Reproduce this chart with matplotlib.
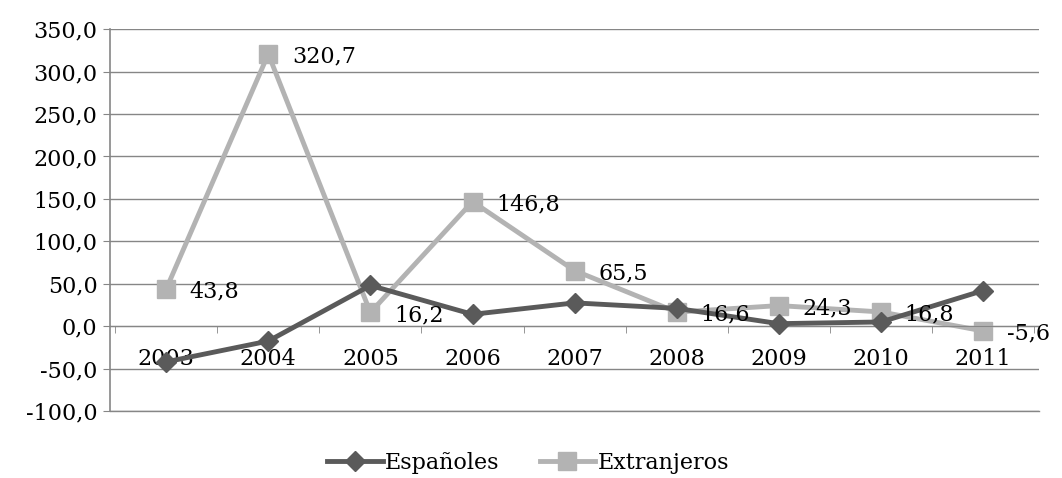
import matplotlib.pyplot as plt
import numpy as np

years = ["2003", "2004", "2005", "2006", "2007", "2008", "2009", "2010", "2011"]
espanoles = [-42.0, -17.5, 48.0, 14.0, 27.5, 21.0, 3.0, 5.0, 42.0]
extranjeros = [43.8, 320.7, 16.2, 146.8, 65.5, 16.6, 24.3, 16.8, -5.6]
ext_labels = ["43,8", "320,7", "16,2", "146,8", "65,5", "16,6", "24,3", "16,8", "-5,6"]

plt.rcParams["font.family"] = ["DejaVu Serif"]

fig = plt.figure(figsize=(10.62, 4.78), dpi=100)
ax = fig.add_axes([0.1036, 0.14, 0.875, 0.799])

x = np.arange(len(years))
ax.plot(x, espanoles, color="#5a5a5a", linewidth=3.5, marker="D", markersize=10,
        label="Españoles", zorder=3)
ax.plot(x, extranjeros, color="#b3b3b3", linewidth=3.5, marker="s", markersize=13,
        label="Extranjeros", zorder=2)

for xi, yi, txt in zip(x, extranjeros, ext_labels):
    ax.annotate(txt, (xi, yi), xytext=(17, -2), textcoords="offset points",
                ha="left", va="center", fontsize=16, color="black", zorder=4)

ax.set_xlim(-0.55, len(years) - 0.45)
ax.set_ylim(-100, 350)
yt = np.arange(-100, 351, 50)
ax.set_yticks(yt)
ax.set_yticklabels([f"{v:.1f}".replace(".", ",") for v in yt])
ax.set_xticks(x)
ax.set_xticklabels(years)
ax.set_xticks(np.arange(-0.5, len(years), 1), minor=True)
ax.tick_params(axis="both", which="major", labelsize=16)
ax.tick_params(axis="x", which="major", length=0, pad=16)
ax.tick_params(axis="x", which="minor", length=5, color="#868686", direction="out")
ax.tick_params(axis="y", length=5, color="#868686", pad=4)

ax.grid(axis="y", color="#868686", linewidth=1)
ax.axhline(-100, color="#868686", linewidth=1, clip_on=False, zorder=0.5)
ax.set_axisbelow(True)
for s in ["top", "right"]:
    ax.spines[s].set_visible(False)
ax.spines["bottom"].set_position(("data", 0))
ax.spines["bottom"].set_color("#868686")
ax.spines["left"].set_color("#868686")
ax.spines["left"].set_linewidth(1.2)

ax.legend(loc="center", bbox_to_anchor=(0.45, -0.135), ncol=2, frameon=False,
          fontsize=16, handlelength=2.5, handletextpad=0.1, columnspacing=1.8)

fig.savefig("out.png", dpi=100)
